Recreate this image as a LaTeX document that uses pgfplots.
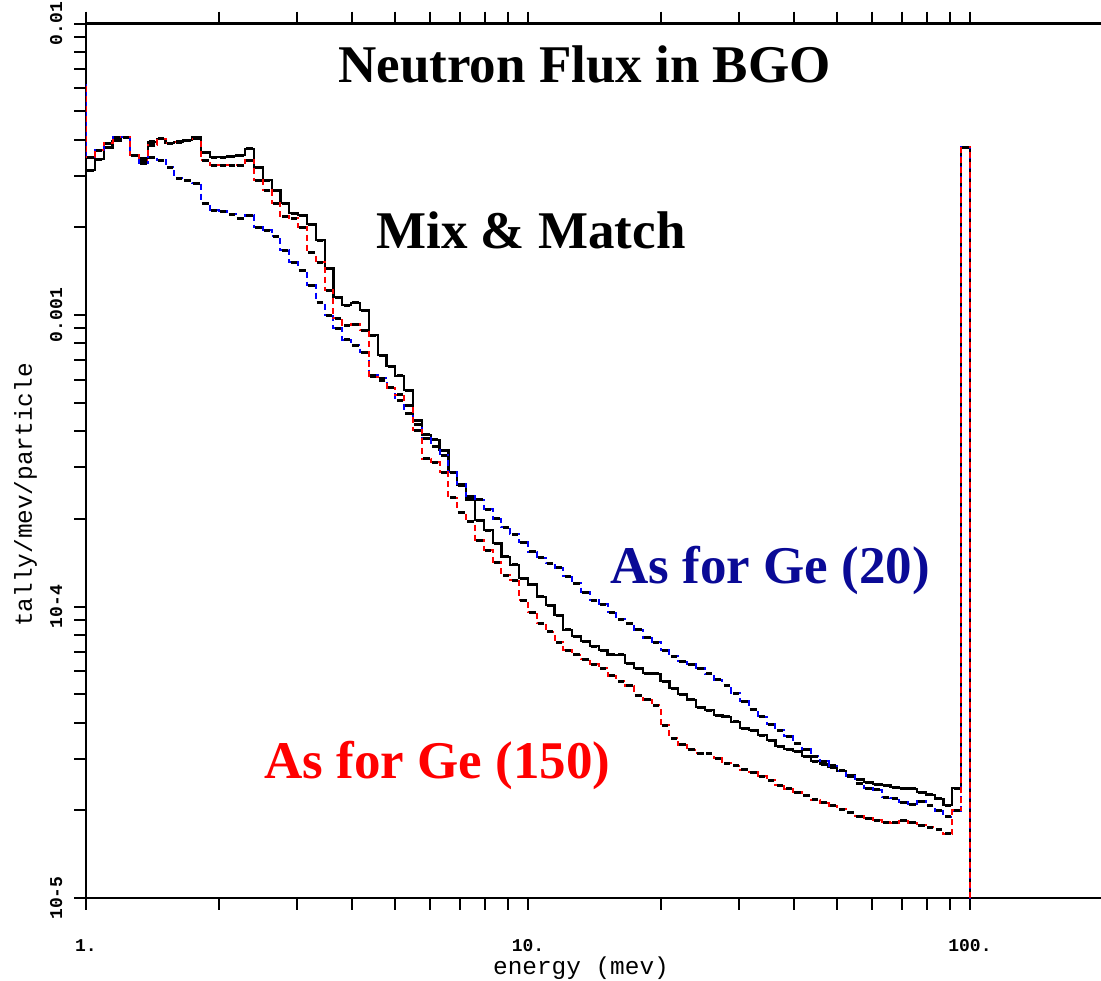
\documentclass[border=0pt]{standalone}
\usepackage{pgfplots}
\usepackage{pgfplotstable}
\pgfplotsset{compat=1.18}
\usepackage{fontspec}
\setmainfont{Liberation Serif}
\setmonofont{Liberation Mono}
\definecolor{navytxt}{RGB}{10,10,150}

\pgfplotstableread{
x B R G
0.97724 3.144e-3 6.15e-3 6.15e-3
1.0233 3.144e-3 3.483e-3 3.483e-3
1.0715 3.429e-3 3.681e-3 3.681e-3
1.1220 3.741e-3 3.892e-3 3.892e-3
1.1749 3.954e-3 4.08e-3 4.08e-3
1.2303 4.08e-3 4.08e-3 4.08e-3
1.2882 3.539e-3 3.539e-3 3.539e-3
1.3490 3.456e-3 3.402e-3 3.322e-3
1.4125 3.923e-3 3.831e-3 3.483e-3
1.4791 4.017e-3 4.017e-3 3.402e-3
1.5488 3.892e-3 3.892e-3 3.219e-3
1.6218 3.923e-3 3.923e-3 2.951e-3
1.6982 3.985e-3 3.954e-3 2.905e-3
1.7783 4.08e-3 4.017e-3 2.837e-3
1.8621 3.624e-3 3.402e-3 2.422e-3
1.9498 3.483e-3 3.271e-3 2.292e-3
2.0417 3.483e-3 3.271e-3 2.274e-3
2.1380 3.511e-3 3.271e-3 2.220e-3
2.2387 3.539e-3 3.271e-3 2.151e-3
2.3442 3.712e-3 3.402e-3 2.203e-3
2.4547 3.219e-3 2.905e-3 2.004e-3
2.5704 2.905e-3 2.684e-3 1.957e-3
2.6915 2.684e-3 2.422e-3 1.866e-3
2.8184 2.422e-3 2.185e-3 1.671e-3
2.9512 2.238e-3 2.151e-3 1.520e-3
3.0903 2.203e-3 2.004e-3 1.427e-3
3.2359 2.052e-3 1.645e-3 1.267e-3
3.3884 1.808e-3 1.520e-3 1.108e-3
3.5481 1.449e-3 1.218e-3 1.000e-3
3.7154 1.152e-3 9.76e-4 9.02e-4
3.8905 1.082e-3 9.24e-4 8.21e-4
4.0738 1.100e-3 9.31e-4 7.89e-4
4.2658 1.040e-3 8.88e-4 7.46e-4
4.4668 8.54e-4 6.13e-4 6.22e-4
4.6774 7.29e-4 5.98e-4 6.08e-4
4.8978 6.68e-4 5.62e-4 5.62e-4
5.1286 6.18e-4 5.32e-4 5.11e-4
5.3703 5.53e-4 4.91e-4 4.61e-4
5.6234 4.36e-4 4.03e-4 4.20e-4
5.8884 3.88e-4 3.21e-4 3.78e-4
6.1660 3.73e-4 3.13e-4 3.55e-4
6.4565 3.44e-4 2.89e-4 3.31e-4
6.7608 2.89e-4 2.36e-4 2.89e-4
7.0795 2.61e-4 2.11e-4 2.63e-4
7.4131 2.32e-4 1.95e-4 2.39e-4
7.7625 1.98e-4 1.69e-4 2.32e-4
8.1283 1.83e-4 1.56e-4 2.16e-4
8.5114 1.65e-4 1.42e-4 2.00e-4
8.9125 1.48e-4 1.28e-4 1.87e-4
9.3325 1.39e-4 1.23e-4 1.77e-4
9.7724 1.25e-4 1.05e-4 1.66e-4
10.233 1.19e-4 9.57e-5 1.54e-4
10.715 1.08e-4 8.78e-5 1.47e-4
11.220 1.01e-4 8.18e-5 1.41e-4
11.749 9.35e-5 7.55e-5 1.36e-4
12.303 8.31e-5 7.09e-5 1.27e-4
12.882 7.92e-5 6.82e-5 1.20e-4
13.490 7.61e-5 6.60e-5 1.12e-4
14.125 7.32e-5 6.35e-5 1.05e-4
14.791 7.09e-5 6.15e-5 1.02e-4
15.488 6.82e-5 5.78e-5 9.57e-5
16.218 6.82e-5 5.55e-5 9.06e-5
16.982 6.40e-5 5.34e-5 8.78e-5
17.783 6.15e-5 4.97e-5 8.31e-5
18.621 5.91e-5 4.78e-5 7.80e-5
19.498 5.87e-5 4.59e-5 7.55e-5
20.417 5.55e-5 3.92e-5 7.09e-5
21.380 5.25e-5 3.54e-5 6.76e-5
22.387 5.01e-5 3.35e-5 6.50e-5
23.442 4.78e-5 3.22e-5 6.35e-5
24.547 4.52e-5 3.14e-5 6.15e-5
25.704 4.41e-5 3.12e-5 5.87e-5
26.915 4.24e-5 3.02e-5 5.60e-5
28.184 4.18e-5 2.90e-5 5.38e-5
29.512 4.02e-5 2.84e-5 5.05e-5
30.903 3.83e-5 2.75e-5 4.74e-5
32.359 3.77e-5 2.70e-5 4.45e-5
33.884 3.62e-5 2.62e-5 4.18e-5
35.481 3.48e-5 2.54e-5 3.95e-5
37.154 3.32e-5 2.44e-5 3.77e-5
38.905 3.24e-5 2.37e-5 3.59e-5
40.738 3.19e-5 2.31e-5 3.40e-5
42.658 3.07e-5 2.24e-5 3.24e-5
44.668 2.95e-5 2.17e-5 3.07e-5
46.774 2.88e-5 2.12e-5 2.95e-5
48.978 2.81e-5 2.07e-5 2.84e-5
51.286 2.73e-5 2.02e-5 2.73e-5
53.703 2.64e-5 1.96e-5 2.62e-5
56.234 2.56e-5 1.91e-5 2.48e-5
58.884 2.50e-5 1.88e-5 2.38e-5
61.660 2.46e-5 1.85e-5 2.35e-5
64.565 2.44e-5 1.82e-5 2.22e-5
67.608 2.40e-5 1.81e-5 2.20e-5
70.795 2.38e-5 1.84e-5 2.13e-5
74.131 2.37e-5 1.81e-5 2.10e-5
77.625 2.31e-5 1.78e-5 2.15e-5
81.283 2.26e-5 1.75e-5 2.07e-5
85.114 2.19e-5 1.72e-5 1.99e-5
89.125 2.08e-5 1.66e-5 1.90e-5
93.325 2.38e-5 2.00e-5 1.99e-5
97.724 3.77e-3 3.77e-3 3.77e-3
102.33 1e-6 1e-6 1e-6
}\fluxdata

\begin{document}
\begin{tikzpicture}
\begin{axis}[
  scale only axis,
  width=508.5pt, height=437.25pt,
  xmode=log, ymode=log,
  xmin=1, xmax=200, ymin=1e-5, ymax=1e-2,
  axis x line*=box, axis y line*=left,
  every boxed x axis/.append style={xtick align=outside},
  every non boxed y axis/.append style={ytick align=outside},
  every boxed y axis/.append style={ytick align=outside},
  every non boxed x axis/.append style={xtick align=outside},
  axis line style={line width=1.2pt, black},
  xtick={1,10,100},
  minor xtick={2,3,4,5,6,7,8,9,20,30,40,50,60,70,80,90,200},
  ytick={1e-5,1e-4,1e-3,1e-2},
  minor ytick={2e-5,3e-5,4e-5,5e-5,6e-5,7e-5,8e-5,9e-5,2e-4,3e-4,4e-4,5e-4,6e-4,7e-4,8e-4,9e-4,2e-3,3e-3,4e-3,5e-3,6e-3,7e-3,8e-3,9e-3},
  xticklabels={1.,10.,100.},
  yticklabels={10-5,10-4,0.001,0.01},
  tick align=outside,
  xtick align=outside, ytick align=outside,
  major tick length=6pt, minor tick length=6pt,
  tick style={line width=1pt, black},
  xticklabel pos=lower,
  ticklabel style={font=\fontsize{9}{10}\selectfont\ttfamily\bfseries},
  xticklabel style={anchor=base},
  xticklabel shift=21pt,
  yticklabel style={rotate=90, anchor=base},
  yticklabel shift=6pt,
  xlabel={energy (mev)},
  ylabel={tally/mev/particle},
  xlabel style={font=\fontsize{12.2}{14}\selectfont\ttfamily, at={(axis description cs:0.4867,-0.0869)}, anchor=base},
  ylabel style={font=\fontsize{12.2}{14}\selectfont\ttfamily, at={(axis description cs:-0.0531,0.4608)}, rotate=0, anchor=base},
]
\addplot[const plot mark mid, black, line width=1.1pt, mark=-, mark size=1.6pt, mark options={solid, line width=1.5pt}]
  table[x=x, y=B]{\fluxdata};
\addplot[const plot mark mid, blue, line width=1pt, dash pattern=on 3pt off 2pt, mark=-, mark size=1.6pt, mark options={solid, black, line width=1.5pt}]
  table[x=x, y=G]{\fluxdata};
\addplot[const plot mark mid, red, line width=1pt, dash pattern=on 3pt off 2pt, dash phase=2.5pt, mark=-, mark size=1.6pt, mark options={solid, black, line width=1.5pt}]
  table[x=x, y=R]{\fluxdata};
\node[anchor=base, font=\fontsize{26.5}{30}\selectfont\bfseries] at (rel axis cs:0.4902,0.9331) {Neutron Flux in BGO};
\node[anchor=base, font=\fontsize{26.5}{30}\selectfont\bfseries] at (rel axis cs:0.4376,0.7433) {Mix \& Match};
\node[anchor=base, text=navytxt, font=\fontsize{26.5}{30}\selectfont\bfseries] at (rel axis cs:0.6726,0.3602) {As for Ge (20)};
\node[anchor=base, text=red, font=\fontsize{26.5}{30}\selectfont\bfseries] at (rel axis cs:0.3456,0.1372) {As for Ge (150)};
\end{axis}
\pgfresetboundingbox
\path ([shift={(-43pt,-41pt)}]current axis.south west) rectangle ([shift={(507.5pt,449pt)}]current axis.south west);
\end{tikzpicture}
\end{document}
